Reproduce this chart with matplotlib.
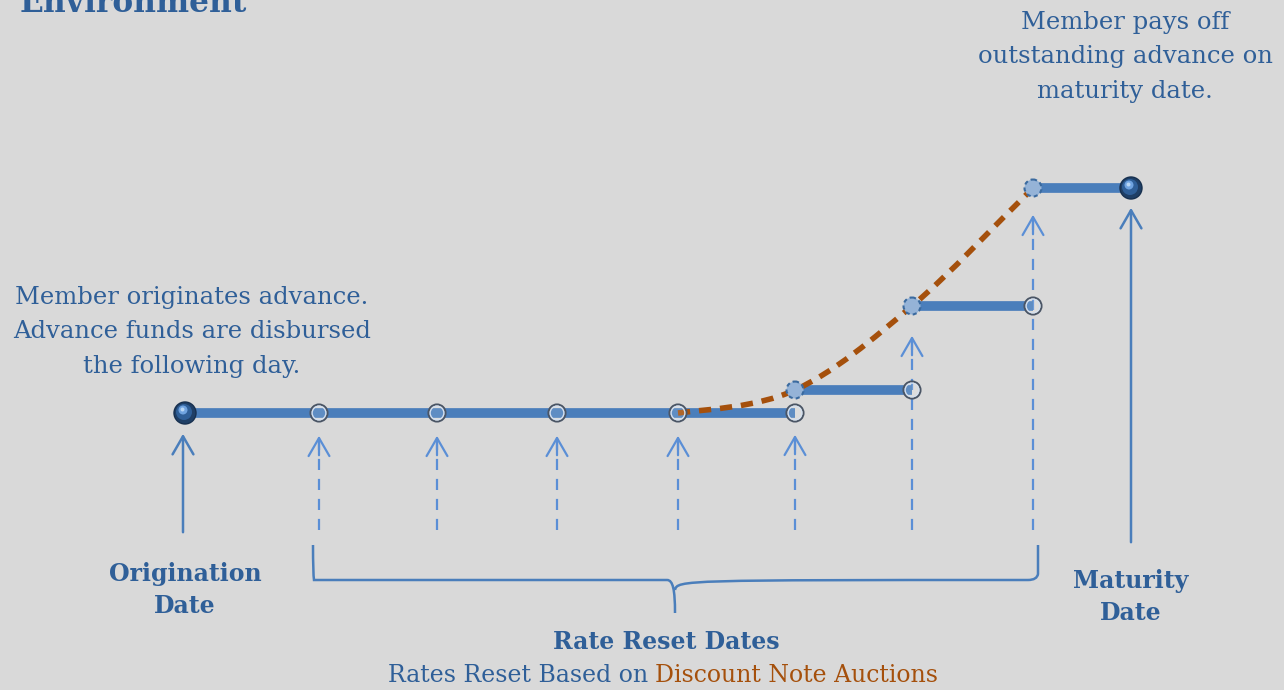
import matplotlib.pyplot as plt
from matplotlib.path import Path
from matplotlib.patches import PathPatch, Circle

# schedule: x positions of dates, rate level (drawn height) in effect from each date
orig_x = 185
reset_x = [319, 437, 557, 678, 795, 912, 1033]
mat_x = 1131
rate_start = 413
reset_rate = [413, 413, 413, 413, 390, 306, 188]   # rate set on each reset date
arrow_tip = [433, 433, 433, 433, 432, 333, 212]

BG = '#D9D9D9'
TXT = '#2F5F98'
LINE = '#4A7EBB'
LIGHT = '#5B8FD6'
ORANGE = '#A5500C'
FONT = 'DejaVu Serif'

fig = plt.figure(figsize=(12.84, 6.9), dpi=100, facecolor=BG)
ax = fig.add_axes([0, 0, 1, 1])
ax.set_xlim(0, 1284)
ax.set_ylim(690, 0)
ax.axis('off')
ax.set_facecolor(BG)

# rate path segments
dates = [orig_x] + reset_x + [mat_x]
# first flat stretch until the rate actually moves
ax.plot([orig_x, reset_x[4]], [rate_start, rate_start], color=LINE, lw=7,
        solid_capstyle='butt', zorder=3)
for i in range(4, len(reset_x)):
    ax.plot([reset_x[i], dates[i + 2]], [reset_rate[i], reset_rate[i]],
            color=LINE, lw=7, solid_capstyle='butt', zorder=3)

# orange dashed curve through the moving resets (Catmull-Rom -> Bezier)
pts = [(reset_x[i], reset_rate[i]) for i in range(3, len(reset_x))]
verts = [pts[0]]
codes = [Path.MOVETO]
for i in range(len(pts) - 1):
    p0 = pts[i - 1] if i > 0 else (pts[0][0] - 60, pts[0][1])
    p1, p2 = pts[i], pts[i + 1]
    p3 = pts[i + 2] if i + 2 < len(pts) else (2 * p2[0] - p1[0], 2 * p2[1] - p1[1])
    c1 = (p1[0] + (p2[0] - p0[0]) / 6, p1[1] + (p2[1] - p0[1]) / 6)
    c2 = (p2[0] - (p3[0] - p1[0]) / 6, p2[1] - (p3[1] - p1[1]) / 6)
    verts += [c1, c2, p2]
    codes += [Path.CURVE4] * 3
ax.add_patch(PathPatch(Path(verts, codes), fill=False, edgecolor=ORANGE, lw=4,
                       linestyle=(0, (2.2, 1.6)), zorder=4))

# dashed arrows from reset dates
for x, tip in zip(reset_x, arrow_tip):
    ax.plot([x, x], [530, tip + 3], color=LIGHT, lw=1.6, linestyle=(0, (5, 4)), zorder=2)
    ax.annotate('', xy=(x, tip), xytext=(x, tip + 25),
                arrowprops=dict(arrowstyle='->,head_length=1.3,head_width=0.75',
                                color=LIGHT, lw=1.6, mutation_scale=10), zorder=2)

# solid arrows for origination and maturity
ax.annotate('', xy=(183, 431), xytext=(183, 535),
            arrowprops=dict(arrowstyle='->,head_length=1.3,head_width=0.75',
                            color=LINE, lw=1.8, mutation_scale=10))
ax.annotate('', xy=(1131, 205), xytext=(1131, 545),
            arrowprops=dict(arrowstyle='->,head_length=1.3,head_width=0.75',
                            color=LINE, lw=1.8, mutation_scale=10))

# open circles: old rate on each reset date
for i, x in enumerate(reset_x):
    y = rate_start if i <= 4 else reset_rate[i - 1]
    ax.add_patch(Circle((x, y), 8.5, facecolor=(1, 1, 1, 0.12),
                        edgecolor='#4A5565', lw=1.5, zorder=5))
    ax.add_patch(Circle((x, y), 6.9, facecolor='none',
                        edgecolor='#D5E0EE', lw=1.0, zorder=5))

# filled light circles: new rate after reset
for i in range(4, len(reset_x)):
    ax.add_patch(Circle((reset_x[i], reset_rate[i]), 8.5, facecolor='#95B3D7',
                        edgecolor='#3A6A9F', lw=1.5, linestyle=(0, (2, 1.5)), zorder=6))

# spheres at origination and maturity
for x, y in [(orig_x, rate_start), (mat_x, reset_rate[-1])]:
    ax.add_patch(Circle((x, y), 11, facecolor='#1F3F66', edgecolor='#17304F', lw=1, zorder=7))
    ax.add_patch(Circle((x - 1, y - 1), 8, facecolor='#2F5F98', edgecolor='none', zorder=7))
    ax.add_patch(Circle((x - 2, y - 3), 4.5, facecolor='#6FA3E0', edgecolor='none', zorder=7))
    ax.add_patch(Circle((x - 2.5, y - 3.5), 2, facecolor='#B8D6F5', edgecolor='none', zorder=7))

# brace under the reset dates
bl, br, bm, btop, bbot, btip = 313, 1038, 675, 545, 580, 613
brace_v = [(bl, btop), (bl, bbot - 6), (bl + 1, bbot), (bl + 10, bbot),
           (bm - 8, bbot), (bm - 2, bbot), (bm, bbot + 10), (bm, btip),
           (bm, bbot + 10), (bm + 2, bbot), (bm + 8, bbot),
           (br - 10, bbot), (br - 1, bbot), (br, bbot - 6), (br, btop)]
brace_c = [Path.MOVETO, Path.CURVE3, Path.CURVE3, Path.LINETO,
           Path.LINETO, Path.CURVE4, Path.CURVE4, Path.CURVE4,
           Path.MOVETO, Path.CURVE4, Path.CURVE4,
           Path.LINETO, Path.CURVE3, Path.CURVE3, Path.LINETO]
ax.add_patch(PathPatch(Path(brace_v, brace_c), fill=False, edgecolor=LINE, lw=1.8))

# texts
ax.text(20, 12, 'Environment', color=TXT, fontsize=22.5, fontweight='bold',
        family=FONT, ha='left', va='baseline')
ax.text(192, 332, 'Member originates advance.\nAdvance funds are disbursed\nthe following day.',
        color=TXT, fontsize=17.5, family=FONT, ha='center', va='center', linespacing=1.65)
ax.text(1125, 57, 'Member pays off\noutstanding advance on\nmaturity date.',
        color=TXT, fontsize=17.5, family=FONT, ha='center', va='center', linespacing=1.65)
ax.text(185, 590, 'Origination\nDate', color=TXT, fontsize=17, fontweight='bold',
        family=FONT, ha='center', va='center', linespacing=1.45)
ax.text(1131, 597, 'Maturity\nDate', color=TXT, fontsize=17, fontweight='bold',
        family=FONT, ha='center', va='center', linespacing=1.45)
ax.text(666, 642, 'Rate Reset Dates', color=TXT, fontsize=17, fontweight='bold',
        family=FONT, ha='center', va='center')
ax.text(648, 676, 'Rates Reset Based on', color=TXT, fontsize=17,
        family=FONT, ha='right', va='center')
ax.text(655, 676, 'Discount Note Auctions', color=ORANGE, fontsize=17,
        family=FONT, ha='left', va='center')

plt.savefig('out.png', dpi=100, facecolor=BG)
